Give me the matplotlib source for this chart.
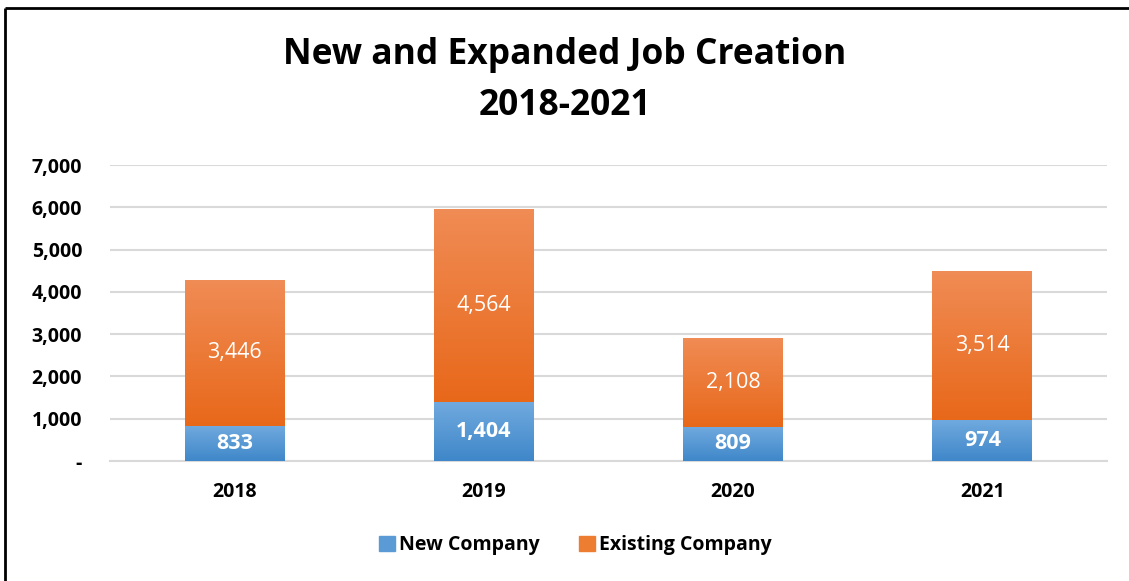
import matplotlib.pyplot as plt
import numpy as np
from matplotlib.colors import LinearSegmentedColormap
from matplotlib.lines import Line2D

plt.rcParams['font.family'] = ['Open Sans', 'DejaVu Sans']

# Data
years = ["2018", "2019", "2020", "2021"]
new_company = [833, 1404, 809, 974]
existing_company = [3446, 4564, 2108, 3514]

fig = plt.figure(figsize=(11.29, 5.81), dpi=100)
ax = fig.add_axes([0.0974, 0.2065, 0.883, 0.5095])

x = np.arange(len(years))
b1 = ax.bar(x, new_company, width=0.4, color="#5B9BD5", zorder=3)
b2 = ax.bar(x, existing_company, width=0.4, bottom=new_company, color="#ED7D31", zorder=3)

# gradient fill for each bar
grads = [(b1, LinearSegmentedColormap.from_list("b", ["#3F87C9", "#71AADF"])),
         (b2, LinearSegmentedColormap.from_list("o", ["#E8681A", "#F08C55"]))]
grad = np.linspace(0, 1, 256).reshape(-1, 1)
for bars, cmap in grads:
    for p in bars:
        x0, y0 = p.get_x(), p.get_y()
        w, h = p.get_width(), p.get_height()
        im = ax.imshow(grad, cmap=cmap, origin="lower", aspect="auto",
                       extent=[x0, x0 + w, y0, y0 + h], zorder=4)
        im.set_clip_path(p)

# value labels
for i in range(len(years)):
    ax.text(x[i], new_company[i] / 2, f"{new_company[i]:,}", ha="center", va="center",
            color="white", fontsize=15.5, fontweight="bold", zorder=5)
    ax.text(x[i], new_company[i] + existing_company[i] / 2, f"{existing_company[i]:,}",
            ha="center", va="center", color="white", fontsize=15.5, zorder=5)

ax.set_xlim(-0.5, len(years) - 0.5)
ax.set_ylim(0, 7000)
yt = list(range(0, 7001, 1000))
ax.set_yticks(yt)
ax.set_yticklabels(["-" if v == 0 else f"{v:,}" for v in yt], fontweight="bold", fontsize=14)
ax.set_xticks(x)
ax.set_xticklabels(years, fontweight="bold", fontsize=14)
ax.tick_params(axis="both", length=0)
ax.tick_params(axis="x", pad=15)
ax.tick_params(axis="y", pad=20)
ax.yaxis.grid(True, color="#D9D9D9", linewidth=1.5, zorder=0)
for s in ["top", "right", "left"]:
    ax.spines[s].set_visible(False)
ax.spines["bottom"].set_color("#D9D9D9")
ax.spines["bottom"].set_linewidth(1.5)

fig.text(0.5, 0.906, "New and Expanded Job Creation", ha="center", va="center",
         fontsize=25.5, fontweight="bold")
fig.text(0.5, 0.817, "2018-2021", ha="center", va="center", fontsize=25.5, fontweight="bold")

handles = [plt.Rectangle((0, 0), 1, 1, color="#5B9BD5"),
           plt.Rectangle((0, 0), 1, 1, color="#ED7D31")]
leg = fig.legend(handles, ["New Company", "Existing Company"], loc="center",
                 bbox_to_anchor=(0.5098, 0.062), ncol=2, frameon=False,
                 prop={"size": 14, "weight": "bold"}, handlelength=0.8, handleheight=0.8,
                 handletextpad=0.25, columnspacing=2.0)

# frame around the chart (top and left)
fig.add_artist(Line2D([0.004, 0.004], [0, 0.987], color="black", linewidth=2,
                      solid_capstyle="butt", transform=fig.transFigure))
fig.add_artist(Line2D([0.004, 1.01], [0.987, 0.987], color="black", linewidth=2,
                      solid_capstyle="butt", transform=fig.transFigure))

fig.savefig("out.png", dpi=100)
